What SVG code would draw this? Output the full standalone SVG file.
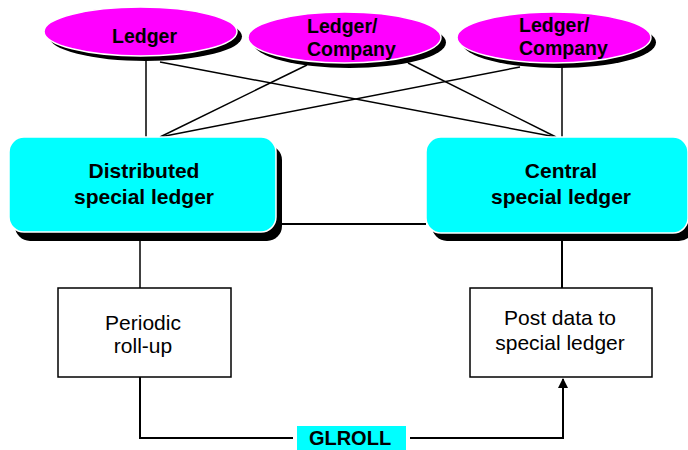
<svg xmlns="http://www.w3.org/2000/svg" width="688" height="450" viewBox="0 0 688 450">
<defs>
<style>
.ln{stroke:#000;stroke-width:1.5;fill:none}
.ln2{stroke:#000;stroke-width:2;fill:none}
.shadow{fill:#000}
.ell{fill:#FF00FF;stroke:#fff;stroke-width:1.5}
.box{fill:#00FFFF;stroke:#fff;stroke-width:1.5}
.plain{fill:#fff;stroke:#000;stroke-width:1.5}
.tb{font-family:"Liberation Sans",Arial,sans-serif;font-weight:bold;fill:#000}
.tn{font-family:"Liberation Sans",Arial,sans-serif;fill:#000;font-size:21px;text-anchor:middle}
</style>
<marker id="arr" viewBox="0 0 10 10" refX="9" refY="5" markerWidth="5" markerHeight="5" orient="auto" markerUnits="strokeWidth">
<path d="M0,0 L10,5 L0,10 z" fill="#000"/>
</marker>
</defs>
<rect width="688" height="450" fill="#fff"/>
<g id="connectors">
<line class="ln" x1="146" y1="50" x2="146" y2="137"/>
<line class="ln" x1="160" y1="62" x2="556" y2="137"/>
<line class="ln" x1="307" y1="65" x2="160" y2="137"/>
<line class="ln" x1="408" y1="63" x2="556" y2="137"/>
<line class="ln" x1="520" y1="67" x2="160" y2="137"/>
<line class="ln" x1="562" y1="55" x2="562" y2="137"/>
<line class="ln2" x1="276" y1="224" x2="426" y2="224"/>
<line class="ln" x1="140" y1="238" x2="140" y2="288"/>
<line class="ln2" x1="562" y1="238" x2="562" y2="288"/>
<polyline class="ln2" points="140,377 140,438 563,438 563,379" marker-end="url(#arr)"/>
</g>
<g id="ledger">
<ellipse class="shadow" cx="145.5" cy="36.5" rx="96.5" ry="24.5"/>
<ellipse class="ell" cx="140.5" cy="31.5" rx="96.5" ry="24.5"/>
<text class="tb" x="144.5" y="43" font-size="19.5" text-anchor="middle">Ledger</text>
</g>
<g id="ledger-company-1">
<ellipse class="shadow" cx="349.5" cy="42.5" rx="96.5" ry="25.5"/>
<ellipse class="ell" cx="344.5" cy="37.5" rx="96.5" ry="25.5"/>
<text class="tb" x="307" y="33" font-size="19.5">Ledger/</text>
<text class="tb" x="307" y="56" font-size="19.5">Company</text>
</g>
<g id="ledger-company-2">
<ellipse class="shadow" cx="559" cy="42.5" rx="97" ry="25.5"/>
<ellipse class="ell" cx="554" cy="37.5" rx="97" ry="25.5"/>
<text class="tb" x="519" y="32" font-size="19.5">Ledger/</text>
<text class="tb" x="519" y="55" font-size="19.5">Company</text>
</g>
<g id="distributed">
<rect class="shadow" x="15" y="145" width="267" height="96" rx="15"/>
<rect class="box" x="9" y="137" width="267" height="95" rx="15"/>
<text class="tb" x="144" y="178" font-size="21" text-anchor="middle">Distributed</text>
<text class="tb" x="144" y="204" font-size="21" text-anchor="middle">special ledger</text>
</g>
<g id="central">
<rect class="shadow" x="432" y="145" width="262" height="96" rx="15"/>
<rect class="box" x="426" y="137" width="262" height="96" rx="15"/>
<text class="tb" x="561" y="178" font-size="21" text-anchor="middle">Central</text>
<text class="tb" x="561" y="204" font-size="21" text-anchor="middle">special ledger</text>
</g>
<g id="periodic">
<rect class="plain" x="58" y="288" width="173" height="89"/>
<text class="tn" x="143" y="330">Periodic</text>
<text class="tn" x="143" y="353">roll-up</text>
</g>
<g id="post">
<rect class="plain" x="470" y="288" width="182" height="89"/>
<text class="tn" x="560" y="325">Post data to</text>
<text class="tn" x="560" y="350">special ledger</text>
</g>
<g id="glroll">
<rect x="295" y="424" width="113" height="30" fill="#00FFFF" stroke="#fff" stroke-width="4"/>
<text class="tb" x="350" y="445" font-size="20" text-anchor="middle">GLROLL</text>
</g>
</svg>
